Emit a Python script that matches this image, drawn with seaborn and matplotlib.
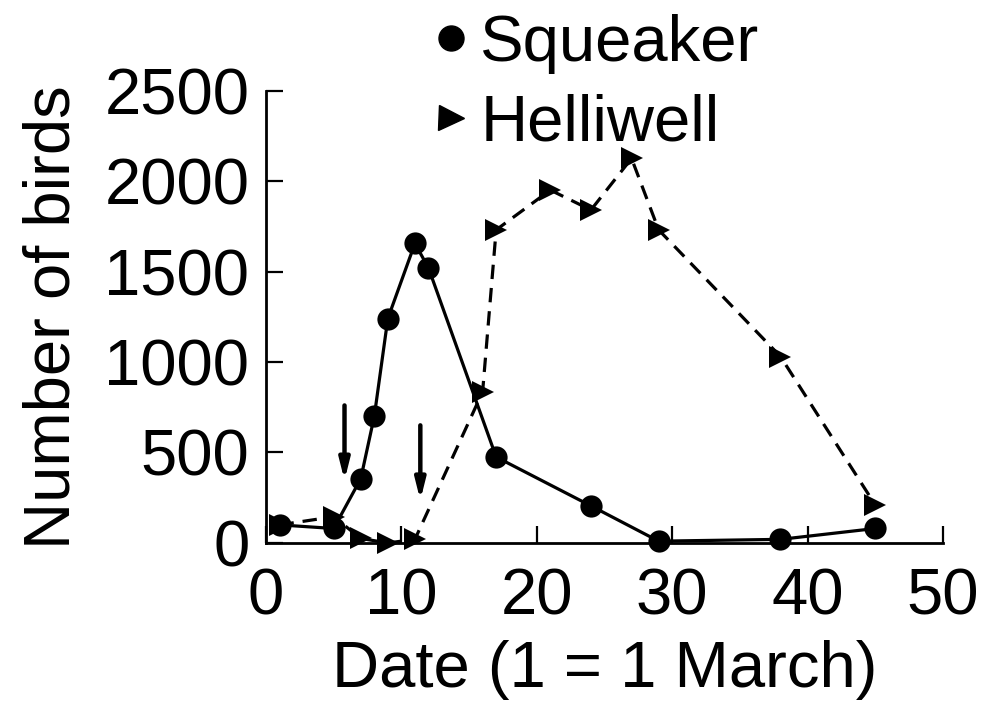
import matplotlib
matplotlib.use("Agg")
import matplotlib.pyplot as plt
from matplotlib.lines import Line2D
import seaborn as sns
import pandas as pd

# Bird counts at the two roosts (day 1 = 1 March)
squeaker_dates = [1, 5, 7, 8, 9, 11, 12, 17, 24, 29, 38, 45]
squeaker_counts = [100, 80, 355, 700, 1240, 1655, 1520, 475, 205, 10, 20, 80]

helliwell_dates = [1, 5, 7, 9, 11, 16, 17, 21, 24, 27, 29, 38, 45]
helliwell_counts = [100, 145, 25, 0, 20, 835, 1730, 1950, 1840, 2125, 1730, 1030, 210]

# Event markers (arrows): date, arrow tail and tip heights
arrow_dates = [5.8, 11.4]
arrow_tails = [760, 650]
arrow_tips = [345, 235]

x_ticks = [0, 10, 20, 30, 40, 50]
y_ticks = [0, 500, 1000, 1500, 2000, 2500]

sns.set_style("ticks")
plt.rcParams["font.family"] = ["Liberation Sans", "DejaVu Sans"]
plt.rcParams.update({"text.color": "black", "axes.labelcolor": "black",
                     "xtick.color": "black", "ytick.color": "black"})

FS = 47

fig = plt.figure(figsize=(9.84, 7.23), dpi=100)
ax = fig.add_axes([0.2703, 0.249, 0.688, 0.6258])

sq = pd.DataFrame({"date": squeaker_dates, "birds": squeaker_counts})
he = pd.DataFrame({"date": helliwell_dates, "birds": helliwell_counts})

sns.lineplot(data=he, x="date", y="birds", ax=ax, color="black",
             linestyle=(0, (4.5, 2.8)), linewidth=2.3, marker=">",
             markersize=16, markeredgewidth=0, clip_on=False, zorder=3)
sns.lineplot(data=sq, x="date", y="birds", ax=ax, color="black",
             linewidth=2.3, marker="o", markersize=16,
             markeredgewidth=0, clip_on=False, zorder=4)

for d, t0, t1 in zip(arrow_dates, arrow_tails, arrow_tips):
    ax.annotate("", xy=(d, t1), xytext=(d, t0),
                arrowprops=dict(arrowstyle="-|>,head_length=1.2,head_width=0.3",
                                color="black", lw=3.2, shrinkA=0, shrinkB=0))

ax.set_xlim(0, 50)
ax.set_ylim(0, 2500)
ax.set_xticks(x_ticks)
ax.set_yticks(y_ticks)
ax.tick_params(direction="in", length=12, width=1.6, labelsize=FS, pad=12,
               colors="black")
ax.tick_params(axis="x", pad=18)
for side in ("top", "right"):
    ax.spines[side].set_visible(False)
for side in ("left", "bottom"):
    ax.spines[side].set_linewidth(2)
    ax.spines[side].set_color("black")

ax.set_xlabel("Date (1 = 1 March)", fontsize=FS, labelpad=9)
ax.set_ylabel("Number of birds", fontsize=FS, labelpad=16)

handles = [
    Line2D([], [], color="black", marker="o", linestyle="none", markersize=18),
    Line2D([], [], color="black", marker=">", linestyle="none", markersize=18),
]
fig.legend(handles, ["Squeaker", "Helliwell"], loc="upper left",
           bbox_to_anchor=(0.415, 1.017), frameon=False, fontsize=FS,
           handlelength=0.5, handletextpad=0.2, labelspacing=0.3,
           borderaxespad=0)

fig.savefig("out.png", dpi=100)
